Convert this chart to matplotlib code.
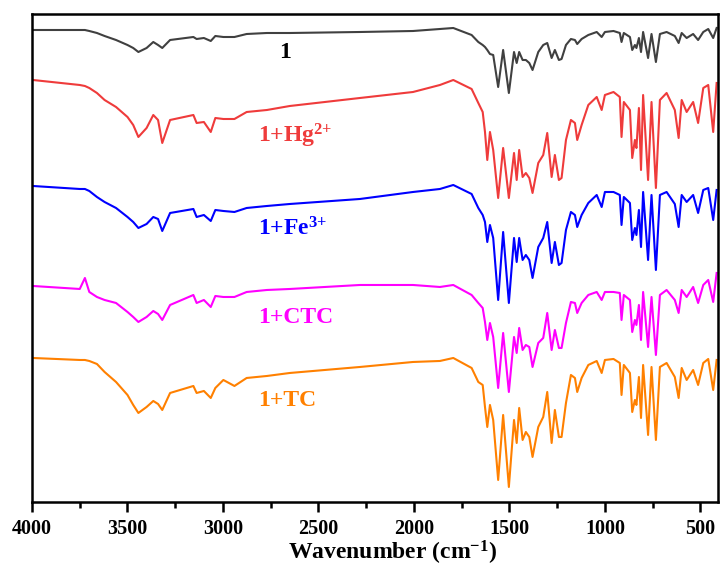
import numpy as np
import matplotlib
matplotlib.use("Agg")
import matplotlib.pyplot as plt
from matplotlib.ticker import MultipleLocator

plt.rcParams['font.family'] = 'Liberation Serif'
plt.rcParams['font.weight'] = 'bold'
plt.rcParams['mathtext.fontset'] = 'custom'
plt.rcParams['mathtext.rm'] = 'Liberation Serif:bold'
plt.rcParams['mathtext.bf'] = 'Liberation Serif:bold'
plt.rcParams['mathtext.default'] = 'bf'

# wavenumber grid (cm-1), descending
wavenumber = [3995, 3750, 3723, 3700, 3660, 3620,
              3560, 3500, 3470, 3443, 3400, 3365, 3340, 3318,
              3277, 3155, 3138, 3100, 3064,
              3040, 2998, 2940, 2876, 2770, 2650,
              2283, 2005, 1864, 1794, 1698,
              1663, 1640, 1628, 1616, 1602,
              1585, 1559, 1533, 1503, 1476,
              1462, 1449, 1431, 1414, 1396,
              1379, 1349, 1323, 1302, 1279,
              1262, 1241, 1227, 1204, 1178,
              1157, 1145, 1122, 1087, 1043,
              1017, 1000, 955, 922, 913,
              901, 869, 857, 843, 835,
              822, 811, 800, 774, 756,
              733, 712, 677, 634, 614,
              598, 572, 538, 512, 485,
              459, 433, 415]

# stacked transmittance (arbitrary units, offset per sample)
t_1 = [470, 470, 470, 469, 467, 464,
       460, 455, 452, 448, 452, 458, 455, 452,
       460, 463, 461, 462, 459,
       464, 463, 463, 466, 467, 467,
       468, 469, 471, 472, 465,
       458, 455, 453, 450, 446,
       445, 413, 450, 407, 448,
       437, 448, 440, 440, 437,
       430, 448, 455, 457, 442,
       450, 440, 441, 455, 461,
       460, 456, 461, 465, 468,
       463, 468, 469, 467, 458,
       467, 463, 450, 455, 452,
       462, 448, 468, 442, 466,
       438, 466, 468, 464, 457,
       467, 462, 466, 460, 468,
       471, 462, 472]

t_hg = [420, 415, 414, 412, 407, 400,
        393, 383, 375, 363, 372, 385, 380, 357,
        380, 385, 377, 378, 368,
        382, 381, 381, 388, 390, 394,
        402, 408, 415, 420, 411,
        397, 388, 368, 340, 368,
        350, 302, 352, 302, 347,
        320, 350, 323, 327, 322,
        307, 337, 345, 367, 323,
        345, 320, 322, 360, 380,
        377, 360, 375, 395, 403,
        390, 405, 408, 403, 363,
        398, 390, 342, 360, 352,
        392, 330, 405, 320, 398,
        312, 400, 407, 390, 362,
        400, 388, 398, 377, 412,
        415, 368, 417]

t_fe = [314, 311, 311, 309, 303, 298,
        292, 283, 278, 272, 276, 283, 281, 269,
        287, 291, 283, 285, 279,
        290, 289, 288, 292, 294, 296,
        301, 308, 311, 315, 306,
        292, 285, 278, 258, 275,
        262, 200, 268, 197, 262,
        238, 262, 240, 245, 240,
        222, 253, 262, 278, 237,
        258, 235, 237, 270, 288,
        285, 273, 285, 297, 305,
        293, 308, 308, 305, 275,
        303, 297, 260, 272, 265,
        290, 253, 308, 240, 305,
        230, 305, 308, 296, 273,
        305, 298, 305, 287, 310,
        312, 280, 310]

t_ctc = [214, 211, 222, 208, 203, 200,
         197, 188, 183, 178, 183, 189, 186, 180,
         195, 205, 197, 200, 193,
         204, 203, 203, 208, 210, 211,
         215, 215, 213, 215, 205,
         197, 192, 178, 160, 177,
         163, 112, 167, 108, 163,
         147, 172, 150, 155, 153,
         133, 157, 162, 187, 150,
         170, 152, 152, 177, 198,
         197, 187, 197, 205, 208,
         200, 208, 208, 207, 180,
         205, 200, 168, 180, 175,
         195, 160, 208, 153, 203,
         145, 205, 210, 200, 187,
         210, 203, 213, 197, 215,
         220, 198, 227]

t_tc = [142, 140, 140, 139, 136, 128,
        118, 105, 95, 87, 93, 99, 96, 90,
        107, 114, 107, 109, 102,
        112, 120, 114, 122, 124, 127,
        133, 138, 139, 142, 132,
        118, 115, 93, 73, 95,
        80, 20, 85, 13, 80,
        57, 92, 60, 68, 63,
        43, 73, 83, 108, 57,
        90, 63, 63, 97, 125,
        122, 108, 122, 135, 139,
        127, 140, 141, 137, 105,
        135, 127, 88, 100, 95,
        123, 82, 135, 65, 133,
        60, 133, 137, 123, 102,
        132, 120, 130, 115, 137,
        141, 110, 140]

labels = ['1', r'1+Hg$^{2{+}}$', r'1+Fe$^{3{+}}$', '1+CTC', '1+TC']
series = [t_1, t_hg, t_fe, t_ctc, t_tc]
colors = ['#404040', '#ef3b3b', '#0000ff', '#ff00ff', '#ff8000']
text_colors = ['black', '#ef3b3b', '#0000ff', '#ff00ff', '#ff8000']
# label anchor (wavenumber, baseline) and alignment
label_pos = [(2675, 442, 'center'), (2817, 357, 'left'), (2817, 264, 'left'),
             (2817, 177, 'left'), (2817, 94, 'left')]

fig = plt.figure(figsize=(7.21, 5.69), dpi=100)
ax = fig.add_axes([0.0444, 0.1178, 0.9514, 0.8576])

for vals, c in zip(series, colors):
    ax.plot(wavenumber, vals, color=c, lw=1.5)

for lab, (xp, yp, ha), tc in zip(labels, label_pos, text_colors):
    ax.text(xp, yp, lab, color=tc, fontsize=17, fontweight='bold',
            ha=ha, va='baseline')

ax.set_xlim(4000, 408)
ax.set_ylim(-2, 486)
ax.xaxis.set_major_locator(MultipleLocator(500))
ax.xaxis.set_minor_locator(MultipleLocator(250))
ax.set_yticks([])
ax.tick_params(axis='x', which='major', direction='out', length=7, width=1.8,
               labelsize=14.5, pad=5)
ax.tick_params(axis='x', which='minor', direction='out', length=4, width=1.8)
for sp in ax.spines.values():
    sp.set_linewidth(1.8)

ax.set_xlabel(r'Wavenumber (cm$^{-1}$)', fontsize=17, fontweight='bold')
ax.xaxis.set_label_coords(0.525, -0.076)

plt.savefig('out.png', dpi=100)
